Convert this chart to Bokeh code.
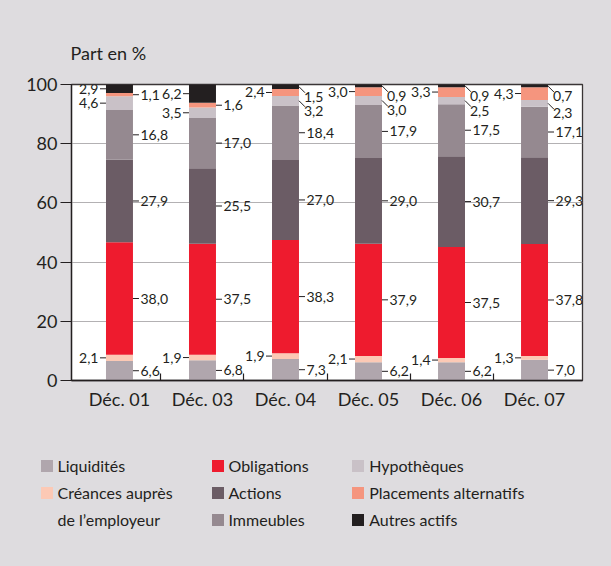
from bokeh.plotting import figure
from bokeh.models import ColumnDataSource, FixedTicker, Legend, LegendItem
from bokeh.layouts import column
from bokeh.core.properties import value
from bokeh.embed import file_html
from bokeh.resources import INLINE

# ---------------- data ----------------
categories = ["Déc. 01", "Déc. 03", "Déc. 04", "Déc. 05", "Déc. 06", "Déc. 07"]
liquidites = [6.6, 6.8, 7.3, 6.2, 6.2, 7.0]
creances = [2.1, 1.9, 1.9, 2.1, 1.4, 1.3]
obligations = [38.0, 37.5, 38.3, 37.9, 37.5, 37.8]
actions = [27.9, 25.5, 27.0, 29.0, 30.7, 29.3]
immeubles = [16.8, 17.0, 18.4, 17.9, 17.5, 17.1]
hypotheques = [4.6, 3.5, 3.2, 3.0, 2.5, 2.3]
placements = [1.1, 1.6, 2.4, 3.0, 3.3, 4.3]
autres = [2.9, 6.2, 1.5, 0.9, 0.9, 0.7]
y_ticks = [0, 20, 40, 60, 80, 100]

series_keys = ["liq", "cre", "obl", "act", "imm", "hyp", "pla", "aut"]
series_names = ["Liquidités", "Créances auprès", "Obligations", "Actions",
                "Immeubles", "Hypothèques", "Placements alternatifs", "Autres actifs"]
series_values = [liquidites, creances, obligations, actions, immeubles,
                 hypotheques, placements, autres]

# ---------------- style ----------------
colors = ["#b0a6ad", "#fcc9b5", "#ee1b2e", "#6b5c65",
          "#958990", "#c9c1c7", "#f5957e", "#231f20"]
# side of each value label: R right, L left, D diagonal (right, going down)
label_sides = {
    "liq": ["R"] * 6,
    "cre": ["L"] * 6,
    "obl": ["R"] * 6,
    "act": ["R"] * 6,
    "imm": ["R"] * 6,
    "hyp": ["L", "L", "D", "D", "D", "D"],
    "pla": ["R", "R", "L", "L", "L", "L"],
    "aut": ["L", "L", "D", "D", "D", "D"],
}
FONT = "Lato"
TXT = "#231f20"
BG = "#dedcdf"
BAR_W = 0.325
X_PAD = 0.578
PX = 1.0 / 83.0        # data-x units per pixel
PY = 100.0 / 296.0     # data-y units per pixel

xs = list(range(len(categories)))
data = {"x": xs}
for k, v in zip(series_keys, series_values):
    data[k] = v
source = ColumnDataSource(data)

p = figure(width=611, height=438, output_backend="svg", toolbar_location=None,
           x_range=(-X_PAD, len(categories) - 1 + X_PAD), y_range=(0, 100),
           min_border_left=71, min_border_right=29, min_border_top=84,
           min_border_bottom=58)
p.background_fill_color = "white"
p.border_fill_color = BG
p.outline_line_color = "#3a3536"
p.outline_line_width = 1.3

p.title.text = "Part en %"
p.title.align = "left"
p.title.text_font = FONT
p.title.text_font_size = "18px"
p.title.text_font_style = "normal"
p.title.text_color = TXT
p.title.standoff = 41
p.title.offset = -1

renderers = p.vbar_stack(series_keys, x="x", width=BAR_W, color=colors,
                         line_width=0, source=source)

# ---------------- value labels with leaders ----------------
seg_x0, seg_y0, seg_x1, seg_y1 = [], [], [], []
lab = {"R": ([], [], []), "L": ([], [], []), "D": ([], [], [])}
hw = BAR_W / 2
LL = 6 * PX
G = 1.5 * PX
for i in xs:
    bottom = 0.0
    for k, vals in zip(series_keys, series_values):
        v = vals[i]
        c = bottom + v / 2
        bottom += v
        side = label_sides[k][i]
        t = f"{v:.1f}".replace(".", ",")
        if side == "R":
            seg_x0.append(i + hw); seg_x1.append(i + hw + LL)
            seg_y0.append(c); seg_y1.append(c)
            lab["R"][0].append(i + hw + LL + G); lab["R"][1].append(c); lab["R"][2].append(t)
        elif side == "L":
            seg_x0.append(i - hw - LL); seg_x1.append(i - hw)
            seg_y0.append(c); seg_y1.append(c)
            lab["L"][0].append(i - hw - LL - G); lab["L"][1].append(c); lab["L"][2].append(t)
        else:
            seg_x0.append(i + hw); seg_x1.append(i + hw + 6 * PX)
            seg_y0.append(c); seg_y1.append(c - 6 * PY)
            lab["D"][0].append(i + hw + 5 * PX); lab["D"][1].append(c - 5 * PY); lab["D"][2].append(t)

p.segment(seg_x0, seg_y0, seg_x1, seg_y1, line_color=TXT, line_width=1)
aligns = {"R": ("left", "middle"), "L": ("right", "middle"), "D": ("left", "top")}
for s, (lx, ly, lt) in lab.items():
    p.text(x=lx, y=ly, text=lt, text_align=aligns[s][0], text_baseline=aligns[s][1],
           text_font=value(FONT), text_font_size="14px", text_color=TXT)

# ---------------- axes ----------------
p.xgrid.grid_line_color = None
p.ygrid.ticker = FixedTicker(ticks=y_ticks)
p.ygrid.grid_line_color = "#b3b1b3"
p.ygrid.grid_line_width = 1.2

p.yaxis.ticker = FixedTicker(ticks=y_ticks)
p.yaxis.major_tick_out = 11
p.yaxis.major_tick_in = 0
p.yaxis.minor_tick_line_color = None
p.yaxis.major_label_standoff = 3
p.yaxis.axis_line_color = TXT
p.yaxis.axis_line_width = 1.3
p.yaxis.major_tick_line_color = TXT
p.yaxis.major_tick_line_width = 1.2
p.yaxis.major_label_text_font = FONT
p.yaxis.major_label_text_font_size = "18px"
p.yaxis.major_label_text_color = TXT

p.xaxis.ticker = FixedTicker(ticks=xs, minor_ticks=[i + 0.5 for i in xs[:-1]])
p.xaxis.major_label_overrides = {i: c for i, c in zip(xs, categories)}
p.xaxis.major_tick_line_color = None
p.xaxis.major_tick_out = 0
p.xaxis.major_tick_in = 0
p.xaxis.minor_tick_in = 7
p.xaxis.minor_tick_out = 0
p.xaxis.minor_tick_line_color = TXT
p.xaxis.minor_tick_line_width = 1.2
p.xaxis.axis_line_color = TXT
p.xaxis.axis_line_width = 1.3
p.xaxis.major_label_standoff = 7
p.xaxis.major_label_text_font = FONT
p.xaxis.major_label_text_font_size = "18px"
p.xaxis.major_label_text_color = TXT

# ---------------- legend (separate strip below) ----------------
lf = figure(width=611, height=128, output_backend="svg", toolbar_location=None,
            x_range=(0, 1), y_range=(0, 1), min_border=0)
if "frame_align" in lf.properties():
    lf.frame_align = False
    p.frame_align = False
lf.axis.visible = False
lf.grid.visible = False
lf.outline_line_color = None
lf.background_fill_color = BG
lf.border_fill_color = BG

# swatch renderers: one point each, placed outside the visible range
swatches = [lf.vbar(x=[-10], top=[0], width=0.1, fill_color=c, line_color=None)
            for c in colors]
blank = lf.vbar(x=[-10], top=[0], width=0.1, fill_alpha=0, line_alpha=0)
cols = [
    [(series_names[0], swatches[0]), (series_names[1], swatches[1]), ("de l’employeur", blank)],
    [(series_names[2], swatches[2]), (series_names[3], swatches[3]), (series_names[4], swatches[4])],
    [(series_names[5], swatches[5]), (series_names[6], swatches[6]), (series_names[7], swatches[7])],
]
col_x = [38.5, 209.5, 350.2]
for cx, items in zip(col_x, cols):
    leg = Legend(items=[LegendItem(label=n, renderers=[r]) for n, r in items],
                 location=(cx, 37), orientation="vertical",
                 glyph_width=15, glyph_height=15, label_height=20, label_standoff=4,
                 spacing=7, padding=0, margin=0,
                 border_line_alpha=0, background_fill_alpha=0,
                 label_text_font=FONT, label_text_font_size="16px", label_text_color=TXT)
    lf.add_layout(leg)

p = column(p, lf, spacing=0, styles={"background-color": BG})
open("out.html", "w").write(file_html(p, INLINE))
